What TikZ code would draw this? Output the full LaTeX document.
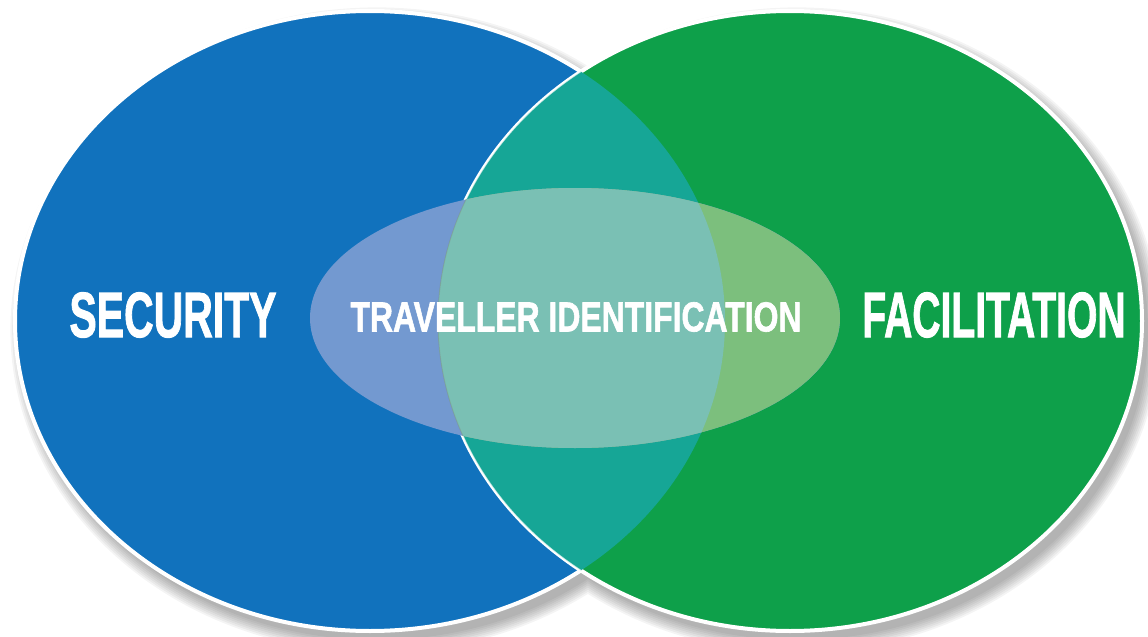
\documentclass[tikz,border=0pt]{standalone}
\usepackage{fontspec}
\setmainfont{Liberation Sans}
\newfontfamily\heavyfont{Liberation Sans Bold}[FakeBold=1.6]
\usepackage{graphicx}
\usepackage{xcolor}
\definecolor{secblue}{HTML}{1172BD}
\definecolor{facgreen}{HTML}{0EA04A}
\definecolor{lensteal}{HTML}{16A696}
\definecolor{ovalblue}{HTML}{7399D0}
\definecolor{ovalteal}{HTML}{7AC0B4}
\definecolor{ovalgreen}{HTML}{7CBF7D}

\begin{document}
\begin{tikzpicture}[
  x=0.5pt,
  y=-0.5pt,
  bigtitle/.style={text=white, inner sep=0pt, font=\fontsize{32}{32}\selectfont\heavyfont},
  midtitle/.style={text=white, inner sep=0pt, font=\fontsize{21}{21}\selectfont\heavyfont},
  shadowring/.style={fill=black, opacity=0.045},
  rimline/.style={draw=white, line width=2pt},
]
\useasboundingbox (0,0) rectangle (1148,637);

% Soft shadow below both rings
\foreach \s in {0,...,7}
  \fill[shadowring] (377,330) ellipse [x radius=354+\s*1.8, y radius=310+\s*1.8]
                    (797,330) ellipse [x radius=351+\s*1.8, y radius=310+\s*1.8];

% The two rings
\filldraw[fill=secblue, rimline] (370,321) ellipse [x radius=355, y radius=310];
\filldraw[fill=facgreen, rimline] (790,321) ellipse [x radius=352, y radius=310];

% Overlap of the rings
\begin{scope}
  \clip (370,321) ellipse [x radius=355, y radius=310];
  \fill[lensteal] (790,321) ellipse [x radius=352, y radius=310];
  \draw[white, opacity=0.7, line width=0.6pt] (790,321) ellipse [x radius=352, y radius=310];
\end{scope}

% Inner oval, tinted region by region
\fill[ovalblue] (575,318) ellipse [x radius=265, y radius=130];
\begin{scope}
  \clip (790,321) ellipse [x radius=352, y radius=310];
  \fill[ovalgreen] (575,318) ellipse [x radius=265, y radius=130];
  \clip (370,321) ellipse [x radius=355, y radius=310];
  \fill[ovalteal] (575,318) ellipse [x radius=265, y radius=130];
\end{scope}
\begin{scope}
  \clip (575,318) ellipse [x radius=265, y radius=130];
  \draw[gray, opacity=0.3, line width=0.5pt] (790,321) ellipse [x radius=352, y radius=310];
\end{scope}

% Labels
\node[bigtitle] (security) at (173,315) {\scalebox{0.64}[1]{SECURITY}};
\node[midtitle] (traveller) at (576,317) {\scalebox{0.76}[1]{TRAVELLER IDENTIFICATION}};
\node[bigtitle] (facilitation) at (994,315) {\scalebox{0.61}[1]{FACILITATION}};

\end{tikzpicture}
\end{document}
